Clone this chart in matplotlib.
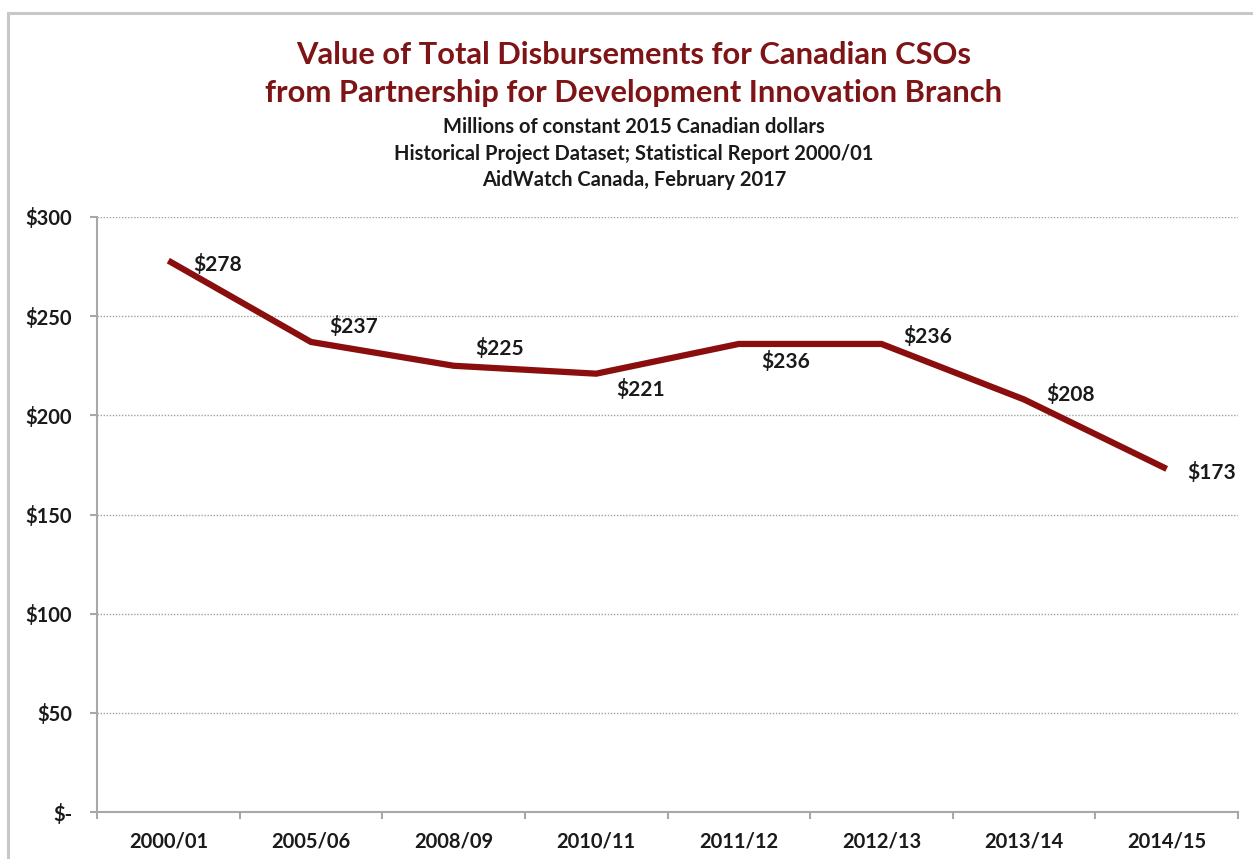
import matplotlib
matplotlib.use("Agg")
import matplotlib.pyplot as plt
from matplotlib.patches import Rectangle
from matplotlib.ticker import FixedLocator

categories = ["2000/01", "2005/06", "2008/09", "2010/11", "2011/12", "2012/13", "2013/14", "2014/15"]
values = [278, 237, 225, 221, 236, 236, 208, 173]
yticks = [0, 50, 100, 150, 200, 250, 300]
ytick_labels = ["$-", "$50", "$100", "$150", "$200", "$250", "$300"]
# label offsets (pixels: dx to left edge, dy downward)
label_offsets = [(25, 4), (18, -15), (22, -17), (20, 16), (22, 18), (22, -7), (22, -5), (21, 4)]

plt.rcParams['font.family'] = ['Lato', 'DejaVu Sans']
DPI = 100
fig = plt.figure(figsize=(12.53, 8.59), dpi=DPI)
W, H = 1253, 859

# outer frame
fig.patches.append(Rectangle((8 / W, -0.1), 1.2, (H - 13) / H + 0.1, transform=fig.transFigure,
                             fill=False, edgecolor="#c8c8c8", linewidth=2.2))

ax = fig.add_axes([97 / W, 1 - 812 / H, (1238 - 97) / W, (812 - 217) / H])
line_color = "#8a0e0e"
x = list(range(len(categories)))
ax.plot(x, values, color=line_color, linewidth=4.5, solid_joinstyle='miter', solid_capstyle='butt', zorder=3)

ax.set_xlim(-0.5, len(categories) - 0.5)
ax.set_ylim(0, 300)
ax.set_yticks(yticks)
ax.set_yticklabels(ytick_labels)
ax.set_xticks(x)
ax.set_xticklabels(categories)
ax.xaxis.set_minor_locator(FixedLocator([i - 0.5 for i in range(len(categories) + 1)]))
ax.tick_params(axis='x', which='major', length=0, pad=14, labelsize=14.5)
ax.tick_params(axis='x', which='minor', length=5, width=1.5, color="#a8a8a8", direction='out')
ax.tick_params(axis='y', which='major', length=5, width=1.5, color="#a8a8a8", pad=13, labelsize=14.5)
for lbl in ax.get_xticklabels() + ax.get_yticklabels():
    lbl.set_fontweight('bold')
    lbl.set_color('#1a1a1a')

for s in ['top', 'right']:
    ax.spines[s].set_visible(False)
for s in ['left', 'bottom']:
    ax.spines[s].set_color("#a8a8a8")
    ax.spines[s].set_linewidth(1.5)

for yv in yticks[1:]:
    ax.axhline(yv, color="#a0a0a0", linewidth=1.0, linestyle=(0, (1, 1.2)), zorder=1)

px2pt = 72 / DPI
for xi, v, (dx, dy) in zip(x, values, label_offsets):
    ax.annotate(f"${v}", (xi, v), xytext=(dx * px2pt, -dy * px2pt), textcoords='offset points',
                ha='left', va='center', fontsize=15, fontweight='bold', color='#1a1a1a', zorder=4)

title_color = "#7f1416"
fig.text(634 / W, 1 - 55 / H, "Value of Total Disbursements for Canadian CSOs", ha='center', va='center',
         fontsize=22.2, fontweight='bold', color=title_color)
fig.text(634 / W, 1 - 93 / H, "from Partnership for Development Innovation Branch", ha='center', va='center',
         fontsize=22.2, fontweight='bold', color=title_color)
subs = ["Millions of constant 2015 Canadian dollars",
        "Historical Project Dataset; Statistical Report 2000/01",
        "AidWatch Canada, February 2017"]
for i, s in enumerate(subs):
    fig.text(634 / W, 1 - (127 + 26.5 * i) / H, s, ha='center', va='center',
             fontsize=14.5, fontweight='bold', color='#1a1a1a')

fig.savefig("out.png", dpi=DPI)
